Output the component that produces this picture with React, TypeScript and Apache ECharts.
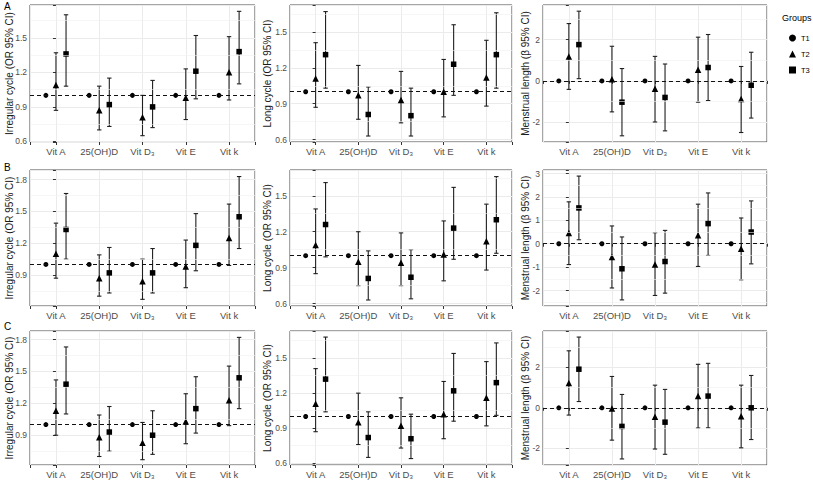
import React, { useEffect, useRef } from "react";
import * as echarts from "echarts";

const categories = ["Vit A", "25(OH)D", "Vit D₃", "Vit E", "Vit k"];
const groupNames = ["T1", "T2", "T3"];
const rowLabels = ["A", "B", "C"];
const yTitles = ["Irregular cycle (OR 95% CI)", "Long cycle (OR 95% CI)", "Menstrual length (β 95% CI)"];

// each entry: [estimate, lower 95% CI, upper 95% CI], one per category
const A_irregular_T2 = [[1.09, 0.87, 1.37], [0.87, 0.70, 1.08], [0.81, 0.65, 1.00], [0.98, 0.79, 1.23], [1.20, 0.96, 1.51]];
const A_irregular_T3 = [[1.36, 1.08, 1.70], [0.92, 0.73, 1.15], [0.90, 0.72, 1.13], [1.21, 0.97, 1.52], [1.38, 1.10, 1.73]];
const A_long_T2 = [[1.11, 0.87, 1.41], [0.97, 0.77, 1.22], [0.93, 0.74, 1.17], [1.00, 0.79, 1.27], [1.12, 0.88, 1.43]];
const A_long_T3 = [[1.31, 1.03, 1.67], [0.81, 0.63, 1.04], [0.80, 0.63, 1.03], [1.23, 0.97, 1.56], [1.31, 1.03, 1.66]];
const A_length_T2 = [[1.19, -0.41, 2.78], [0.08, -1.50, 1.68], [-0.38, -1.99, 1.19], [0.54, -1.03, 2.12], [-0.87, -2.50, 0.70]];
const A_length_T3 = [[1.76, 0.11, 3.38], [-1.03, -2.66, 0.60], [-0.80, -2.42, 0.82], [0.65, -0.95, 2.25], [-0.21, -1.80, 1.39]];

const B_irregular_T2 = [[1.10, 0.87, 1.39], [0.87, 0.70, 1.09], [0.84, 0.67, 1.05], [0.98, 0.78, 1.23], [1.25, 0.99, 1.57]];
const B_irregular_T3 = [[1.33, 1.05, 1.67], [0.92, 0.73, 1.16], [0.92, 0.73, 1.15], [1.18, 0.94, 1.48], [1.45, 1.15, 1.83]];
const B_long_T2 = [[1.09, 0.85, 1.39], [0.95, 0.75, 1.20], [0.94, 0.75, 1.19], [1.01, 0.79, 1.29], [1.12, 0.88, 1.43]];
const B_long_T3 = [[1.26, 0.99, 1.61], [0.81, 0.63, 1.04], [0.82, 0.64, 1.05], [1.23, 0.97, 1.57], [1.30, 1.02, 1.66]];
const B_length_T2 = [[0.46, -0.89, 1.79], [-0.57, -1.89, 0.76], [-0.89, -2.21, 0.47], [0.36, -0.97, 1.69], [-0.21, -1.54, 1.10]];
const B_length_T3 = [[1.53, 0.17, 2.89], [-1.07, -2.40, 0.29], [-0.76, -2.11, 0.57], [0.86, -0.50, 2.17], [0.50, -0.86, 1.83]];

const C_irregular_T2 = [[1.13, 0.90, 1.42], [0.88, 0.70, 1.09], [0.83, 0.67, 1.02], [1.03, 0.82, 1.29], [1.23, 0.99, 1.55]];
const C_irregular_T3 = [[1.38, 1.10, 1.73], [0.93, 0.75, 1.17], [0.90, 0.72, 1.13], [1.15, 0.92, 1.45], [1.44, 1.15, 1.82]];
const C_long_T2 = [[1.11, 0.87, 1.41], [0.95, 0.76, 1.20], [0.92, 0.73, 1.16], [1.02, 0.81, 1.30], [1.16, 0.92, 1.47]];
const C_long_T3 = [[1.32, 1.04, 1.68], [0.82, 0.65, 1.04], [0.81, 0.64, 1.02], [1.22, 0.96, 1.54], [1.29, 1.01, 1.63]];
const C_length_T2 = [[1.23, -0.36, 2.82], [-0.03, -1.60, 1.55], [-0.44, -2.04, 1.12], [0.58, -1.00, 2.15], [-0.42, -1.98, 1.12]];
const C_length_T3 = [[1.91, 0.31, 3.50], [-0.92, -2.53, 0.66], [-0.71, -2.30, 0.91], [0.58, -0.99, 2.20], [0.00, -1.57, 1.60]];

// panel layout / axis settings
const panels = [
  { row: 0, col: 0, t2: A_irregular_T2, t3: A_irregular_T3, ref: 1, min: 0.595, max: 1.785, step: 0.3 },
  { row: 0, col: 1, t2: A_long_T2, t3: A_long_T3, ref: 1, min: 0.58, max: 1.725, step: 0.3 },
  { row: 0, col: 2, t2: A_length_T2, t3: A_length_T3, ref: 0, min: -2.96, max: 3.68, step: 2 },
  { row: 1, col: 0, t2: B_irregular_T2, t3: B_irregular_T3, ref: 1, min: 0.607, max: 1.892, step: 0.3 },
  { row: 1, col: 1, t2: B_long_T2, t3: B_long_T3, ref: 1, min: 0.58, max: 1.715, step: 0.3 },
  { row: 1, col: 2, t2: B_length_T2, t3: B_length_T3, ref: 0, min: -2.66, max: 3.15, step: 1 },
  { row: 2, col: 0, t2: C_irregular_T2, t3: C_irregular_T3, ref: 1, min: 0.62, max: 1.88, step: 0.3 },
  { row: 2, col: 1, t2: C_long_T2, t3: C_long_T3, ref: 1, min: 0.585, max: 1.732, step: 0.3 },
  { row: 2, col: 2, t2: C_length_T2, t3: C_length_T3, ref: 0, min: -2.83, max: 3.8, step: 2 },
];

const rowTop = [5, 170, 331];
const rowHeight = [137, 136, 134];
const colLeft = [30, 290, 543];
const colWidth = [225, 222, 224];
const nameGaps = [16, 18, 13];
const dodge = [-0.233, 0, 0.233];
const FONT = "'Liberation Sans', Arial, Helvetica, sans-serif";

function isMultiple(v: number, step: number) {
  const r = v / step;
  return Math.abs(r - Math.round(r)) < 1e-6;
}

function buildOption() {
  const grid: any[] = [];
  const xAxis: any[] = [];
  const yAxis: any[] = [];
  const series: any[] = [];

  panels.forEach((p, i) => {
    grid.push({
      left: colLeft[p.col],
      top: rowTop[p.row],
      width: colWidth[p.col],
      height: rowHeight[p.row],
      show: true,
      backgroundColor: "#ffffff",
      borderColor: "#4a4a4a",
      borderWidth: 1,
      containLabel: false,
      outerBoundsMode: "none",
    });
    xAxis.push({
      type: "value",
      gridIndex: i,
      min: -0.6,
      max: 4.6,
      minInterval: 1,
      maxInterval: 1,
      axisLine: { show: false },
      axisTick: { show: true, length: 3, lineStyle: { color: "#333" } },
      axisLabel: {
        formatter: (v: number) => (Number.isInteger(v) && v >= 0 && v < categories.length ? categories[v] : ""),
        fontSize: 9.5,
        color: "#4d4d4d",
        margin: 4,
        fontFamily: FONT,
      },
      splitLine: { show: true, lineStyle: { color: "#ebebeb", width: 1 } },
    });
    const dec = p.step < 1 ? 1 : 0;
    yAxis.push({
      type: "value",
      gridIndex: i,
      min: p.min,
      max: p.max,
      minInterval: p.step,
      maxInterval: p.step,
      axisLine: { show: false },
      axisTick: { show: true, length: 3, lineStyle: { color: "#333" } },
      axisLabel: {
        formatter: (v: number) => (isMultiple(v, p.step) ? v.toFixed(dec).replace("-0", "0") : ""),
        fontSize: 8.5,
        color: "#4d4d4d",
        margin: 3,
        fontFamily: FONT,
      },
      splitLine: { show: true, lineStyle: { color: "#ebebeb", width: 1 } },
      name: yTitles[p.col],
      nameLocation: "middle",
      nameGap: nameGaps[p.col],
      nameMoveOverlap: false,
      nameTextStyle: { fontSize: 10, color: "#1a1a1a", fontFamily: FONT },
    });

    // minor grid lines (half steps) and the reference line
    const minors: any[] = [];
    const kStart = Math.ceil(p.min / p.step - 0.5);
    for (let k = kStart; (k + 0.5) * p.step < p.max; k++) {
      const v = (k + 0.5) * p.step;
      if (v > p.min) minors.push({ yAxis: v, lineStyle: { color: "#f0f0f0", width: 0.6, type: "solid" } });
    }
    series.push({
      type: "line",
      name: "grid" + i,
      xAxisIndex: i,
      yAxisIndex: i,
      data: [],
      z: 1,
      silent: true,
      markLine: {
        silent: true,
        symbol: ["none", "none"],
        label: { show: false },
        animation: false,
        data: [...minors, { yAxis: p.ref, lineStyle: { color: "#111", width: 1.1, type: [4, 3] } }],
      },
    });

    // error bars
    const ci: any[] = [];
    p.t2.forEach((d, k) => ci.push([k + dodge[1], d[1], d[2]]));
    p.t3.forEach((d, k) => ci.push([k + dodge[2], d[1], d[2]]));
    series.push({
      type: "custom",
      name: "CI" + i,
      xAxisIndex: i,
      yAxisIndex: i,
      data: ci,
      z: 3,
      silent: true,
      encode: { x: 0, y: [1, 2] },
      renderItem: (params: any, api: any) => {
        const x = api.value(0);
        const lo = api.coord([x, api.value(1)]);
        const hi = api.coord([x, api.value(2)]);
        const cap = 2.2;
        const style = { stroke: "#1f1f1f", lineWidth: 1.1 };
        return {
          type: "group",
          children: [
            { type: "line", shape: { x1: lo[0], y1: lo[1], x2: hi[0], y2: hi[1] }, style },
            { type: "line", shape: { x1: lo[0] - cap, y1: lo[1], x2: lo[0] + cap, y2: lo[1] }, style },
            { type: "line", shape: { x1: hi[0] - cap, y1: hi[1], x2: hi[0] + cap, y2: hi[1] }, style },
          ],
        };
      },
    });

    // points
    const t1 = categories.map((_, k) => [k + dodge[0], p.ref]);
    const t2 = p.t2.map((d, k) => [k + dodge[1], d[0]]);
    const t3 = p.t3.map((d, k) => [k + dodge[2], d[0]]);
    const pts = [
      { name: "T1", data: t1, symbol: "circle", size: 5 },
      { name: "T2", data: t2, symbol: "triangle", size: 6.5 },
      { name: "T3", data: t3, symbol: "rect", size: 5.5 },
    ];
    pts.forEach((s) => {
      series.push({
        type: "scatter",
        name: s.name,
        xAxisIndex: i,
        yAxisIndex: i,
        data: s.data,
        symbol: s.symbol,
        symbolSize: s.size,
        itemStyle: { color: "#000", opacity: 1 },
        z: 4,
        silent: true,
      });
    });
  });

  const graphic: any[] = [
    { type: "text", left: 782, top: 13, style: { text: "Groups", fontSize: 9, fill: "#000", fontFamily: FONT } },
    ...rowLabels.map((t, r) => ({
      type: "text",
      left: 4,
      top: [1, 162, 321][r],
      style: { text: t, fontSize: 10, fill: "#000", fontFamily: FONT },
    })),
  ];

  return {
    animation: false,
    backgroundColor: "#ffffff",
    grid,
    xAxis,
    yAxis,
    series,
    graphic,
    legend: {
      data: groupNames,
      orient: "vertical",
      left: 784,
      top: 29,
      itemWidth: 7,
      itemHeight: 7,
      itemGap: 8,
      selectedMode: false,
      textStyle: { fontSize: 7.5, color: "#000", fontFamily: FONT },
    },
  };
}

export default function App() {
  const ref = useRef<HTMLDivElement>(null);
  useEffect(() => {
    document.body.style.margin = "0";
    const chart = echarts.init(ref.current!, undefined, { renderer: "svg" });
    chart.setOption(buildOption() as any);
    return () => chart.dispose();
  }, []);
  return <div ref={ref} style={{ width: 813, height: 482, background: "#fff" }} />;
}
